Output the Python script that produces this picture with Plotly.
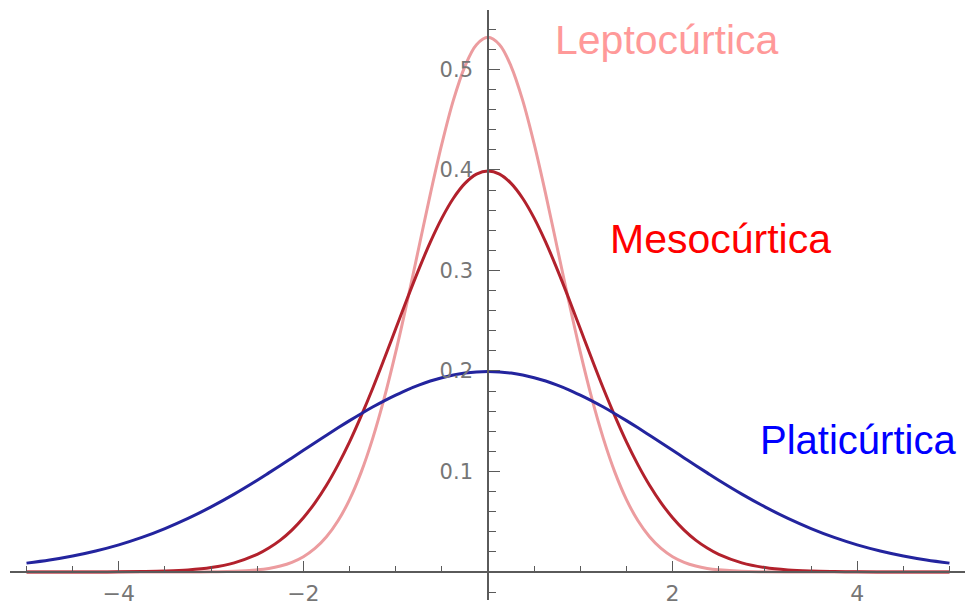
import plotly.graph_objects as go

# sample positions along x
x_vals = [-5.0, -4.75, -4.5, -4.25, -4.0, -3.75, -3.5, -3.25, -3.0, -2.75, -2.5,
          -2.375, -2.25, -2.125, -2.0, -1.875, -1.75, -1.625, -1.5, -1.375, -1.25, -1.125,
          -1.0, -0.875, -0.75, -0.625, -0.5, -0.375, -0.25, -0.125, 0.0,
          0.125, 0.25, 0.375, 0.5, 0.625, 0.75, 0.875, 1.0,
          1.125, 1.25, 1.375, 1.5, 1.625, 1.75, 1.875, 2.0, 2.125, 2.25, 2.375,
          2.5, 2.75, 3.0, 3.25, 3.5, 3.75, 4.0, 4.25, 4.5, 4.75, 5.0]

# Leptocúrtica (narrow, tall)
lepto = [0.0, 0.0, 0.0, 0.0, 0.0, 0.0, 0.0, 0.0, 0.0002, 0.0006, 0.0021,
         0.0035, 0.0059, 0.0096, 0.0152, 0.0234, 0.0350, 0.0509, 0.0720, 0.0991, 0.1327, 0.1727,
         0.2187, 0.2693, 0.3226, 0.3760, 0.4259, 0.4695, 0.5032, 0.5247, 0.532,
         0.5247, 0.5032, 0.4695, 0.4259, 0.3760, 0.3226, 0.2693, 0.2187,
         0.1727, 0.1327, 0.0991, 0.0720, 0.0509, 0.0350, 0.0234, 0.0152, 0.0096, 0.0059, 0.0035,
         0.0021, 0.0006, 0.0002, 0.0, 0.0, 0.0, 0.0, 0.0, 0.0, 0.0, 0.0]

# Mesocúrtica (standard)
meso = [0.0, 0.0, 0.0, 0.0, 0.0001, 0.0004, 0.0009, 0.0020, 0.0044, 0.0091, 0.0175,
        0.0238, 0.0317, 0.0417, 0.0540, 0.0688, 0.0863, 0.1066, 0.1295, 0.1551, 0.1826, 0.2119,
        0.2420, 0.2721, 0.3011, 0.3282, 0.3521, 0.3719, 0.3867, 0.3959, 0.399,
        0.3959, 0.3867, 0.3719, 0.3521, 0.3282, 0.3011, 0.2721, 0.2420,
        0.2119, 0.1826, 0.1551, 0.1295, 0.1066, 0.0863, 0.0688, 0.0540, 0.0417, 0.0317, 0.0238,
        0.0175, 0.0091, 0.0044, 0.0020, 0.0009, 0.0004, 0.0001, 0.0, 0.0, 0.0, 0.0]

# Platicúrtica (wide, flat)
plati = [0.0088, 0.0119, 0.0159, 0.0209, 0.0270, 0.0344, 0.0432, 0.0533, 0.0648, 0.0775, 0.0913,
         0.0986, 0.1060, 0.1135, 0.1210, 0.1286, 0.1360, 0.1434, 0.1506, 0.1575, 0.1641, 0.1703,
         0.1760, 0.1813, 0.1859, 0.1900, 0.1933, 0.1960, 0.1979, 0.1991, 0.1995,
         0.1991, 0.1979, 0.1960, 0.1933, 0.1900, 0.1859, 0.1813, 0.1760,
         0.1703, 0.1641, 0.1575, 0.1506, 0.1434, 0.1360, 0.1286, 0.1210, 0.1135, 0.1060, 0.0986,
         0.0913, 0.0775, 0.0648, 0.0533, 0.0432, 0.0344, 0.0270, 0.0209, 0.0159, 0.0119, 0.0088]

x_tickvals = [-4, -2, 2, 4]
x_ticktext = ["\u22124", "\u22122", "2", "4"]
y_tickvals = [0.1, 0.2, 0.3, 0.4, 0.5]
y_ticktext = ["0.1", "0.2", "0.3", "0.4", "0.5"]

labels = ["Leptocúrtica", "Mesocúrtica", "Platicúrtica"]

W, H = 968, 606
X_RANGE = [-5.179, 5.168]
Y_RANGE = [-0.0279, 0.5592]
X_DOMAIN = [10 / W, 965 / W]
Y_DOMAIN = [1 - 600 / H, 1 - 10 / H]

fig = go.Figure()
fig.add_trace(go.Scatter(x=x_vals, y=lepto, mode="lines",
                         line=dict(color="#EC9C9F", width=3, shape="spline", smoothing=1.0),
                         hoverinfo="skip", name=labels[0]))
fig.add_trace(go.Scatter(x=x_vals, y=meso, mode="lines",
                         line=dict(color="#B2212C", width=3, shape="spline", smoothing=1.0),
                         hoverinfo="skip", name=labels[1]))
fig.add_trace(go.Scatter(x=x_vals, y=plati, mode="lines",
                         line=dict(color="#23249E", width=3, shape="spline", smoothing=1.0),
                         hoverinfo="skip", name=labels[2]))

axis_color = "#5a5a5a"
label_color = "#767676"

# place each axis line where the other axis is zero (paper fractions)
xpos = Y_DOMAIN[0] + (0 - Y_RANGE[0]) / (Y_RANGE[1] - Y_RANGE[0]) * (Y_DOMAIN[1] - Y_DOMAIN[0])
ypos = X_DOMAIN[0] + (0 - X_RANGE[0]) / (X_RANGE[1] - X_RANGE[0]) * (X_DOMAIN[1] - X_DOMAIN[0])

fig.update_layout(
    width=W, height=H,
    margin=dict(l=0, r=0, t=0, b=0, autoexpand=False),
    paper_bgcolor="white", plot_bgcolor="white",
    showlegend=False,
    xaxis=dict(range=X_RANGE, domain=X_DOMAIN, anchor="free", position=xpos, showgrid=False, zeroline=False,
               automargin=False,
               showline=True, linecolor=axis_color, linewidth=1.6,
               tickvals=x_tickvals, ticktext=x_ticktext, ticks="inside", ticklen=10,
               tickcolor=axis_color, tickwidth=1.4, ticklabelstandoff=2,
               tickfont=dict(family="DejaVu Sans", size=22, color=label_color),
               minor=dict(dtick=0.5, tick0=0, ticks="inside", ticklen=5, tickcolor=axis_color, tickwidth=1.2,
                          showgrid=False)),
    yaxis=dict(range=Y_RANGE, domain=Y_DOMAIN, anchor="free", position=ypos, showgrid=False, zeroline=False,
               automargin=False,
               showline=True, linecolor=axis_color, linewidth=1.6,
               tickvals=y_tickvals, ticktext=y_ticktext, ticks="inside", ticklen=11,
               tickcolor=axis_color, tickwidth=1.4, ticklabelstandoff=10,
               tickfont=dict(family="DejaVu Sans", size=21, color=label_color),
               minor=dict(dtick=0.02, tick0=0, ticks="inside", ticklen=7, tickcolor=axis_color, tickwidth=1.2,
                          showgrid=False)),
    annotations=[
        dict(text=labels[0], xref="paper", yref="paper", x=553/W, y=1-40/H, xanchor="left", yanchor="middle",
             showarrow=False, font=dict(family="Liberation Sans", size=41, color="#FF9999")),
        dict(text=labels[1], xref="paper", yref="paper", x=608/W, y=1-239/H, xanchor="left", yanchor="middle",
             showarrow=False, font=dict(family="Liberation Sans", size=41, color="#FF0000")),
        dict(text=labels[2], xref="paper", yref="paper", x=758/W, y=1-440/H, xanchor="left", yanchor="middle",
             showarrow=False, font=dict(family="Liberation Sans", size=40, color="#0000FF")),
    ],
)

fig.write_html("out.html", config={"displayModeBar": False},
               post_script="document.body.style.margin='0';document.body.style.overflow='hidden';")
